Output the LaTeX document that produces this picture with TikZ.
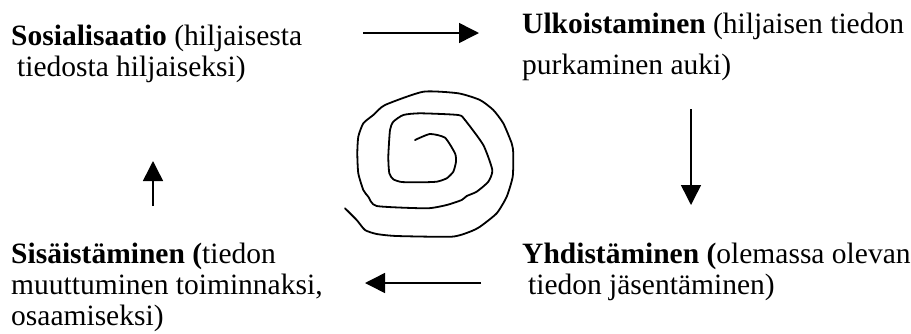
\documentclass[tikz,border=0pt]{standalone}
\usepackage{fontspec}
\setmainfont{Liberation Serif}
\usetikzlibrary{arrows.meta}
\tikzset{
  phase/.style = {anchor=base west, inner sep=0pt, align=left,
    font=\fontsize{29.5}{31}\selectfont},% tekstilohko, ankkuri viimeisen rivin pohjalla
  flow/.style = {-{Triangle[length=20pt,width=20pt]}, line width=1.5pt},% nuoli
  spiral/.style = {line width=1.8pt, line join=round, line cap=round}
}

\begin{document}
\begin{tikzpicture}[x=1pt,y=-1pt]
  \useasboundingbox (0,0) rectangle (911,333);
  % nelikentan tekstit
  \node [phase] (sosial) at (11,76)
    {\textbf{Sosialisaatio} (hiljaisesta\\\hspace*{0.2em}tiedosta hiljaiseksi)};
  \node [phase] (ulkoist) at (522,74)
    {\textbf{Ulkoistaminen} (hiljaisen tiedon\\[10pt]purkaminen auki)};
  \node [phase] (yhdist) at (522,294)
    {\textbf{Yhdist\"aminen (}olemassa olevan\\\hspace*{0.2em}tiedon j\"asent\"aminen)};
  \node [phase] (sisaist) at (11,325)
    {\textbf{Sis\"aist\"aminen (}tiedon\\muuttuminen toiminnaksi,\\osaamiseksi)};
  % nuolten p"a"at
  \coordinate (a1) at (363,33);  \coordinate (a2) at (479,33);
  \coordinate (b1) at (691,109); \coordinate (b2) at (691,205);
  \coordinate (c1) at (481,283); \coordinate (c2) at (365,283);
  \coordinate (d1) at (153,206); \coordinate (d2) at (153,161);
  \draw [flow] (a1) -- (a2);
  \draw [flow] (b1) -- (b2);
  \draw [flow] (c1) -- (c2);
  \draw [flow] (d1) -- (d2);
  % spiraali keskell"a
  \draw [spiral] plot [smooth, tension=0.35] coordinates {
    (415,140) (430,134) (445,137.7) (455,153.3) (456,161.7) (453.3,171.7)
    (446.7,178.3) (436.7,181.7) (420,182.3) (401.7,182) (393.3,179.3)
    (389.3,173.3) (388.3,156.7) (390,130) (393.3,121.7) (403.3,115)
    (420,113.3) (458.3,115) (465,120) (483.3,145) (492.3,170) (488.3,181.7)
    (476.7,191.7) (466.7,196) (461.7,200) (446.7,205) (426.7,208.3)
    (376.7,206) (368.3,196.7) (363.3,190) (358.3,173.3) (357.3,153.3)
    (358.3,136.7) (363.3,123.3) (373.3,115) (385,105) (423.3,91.7)
    (458.3,93.3) (480,100) (493.3,110) (503.3,123.3) (511.7,143.3)
    (513.3,153.3) (512.7,176.7) (506.7,196.7) (496.7,213.3) (480,226.7)
    (470,231.7) (451.7,236.7) (396.7,236) (376.7,234) (365,230)
    (356.7,220) (345,208.3)};
\end{tikzpicture}
\end{document}
